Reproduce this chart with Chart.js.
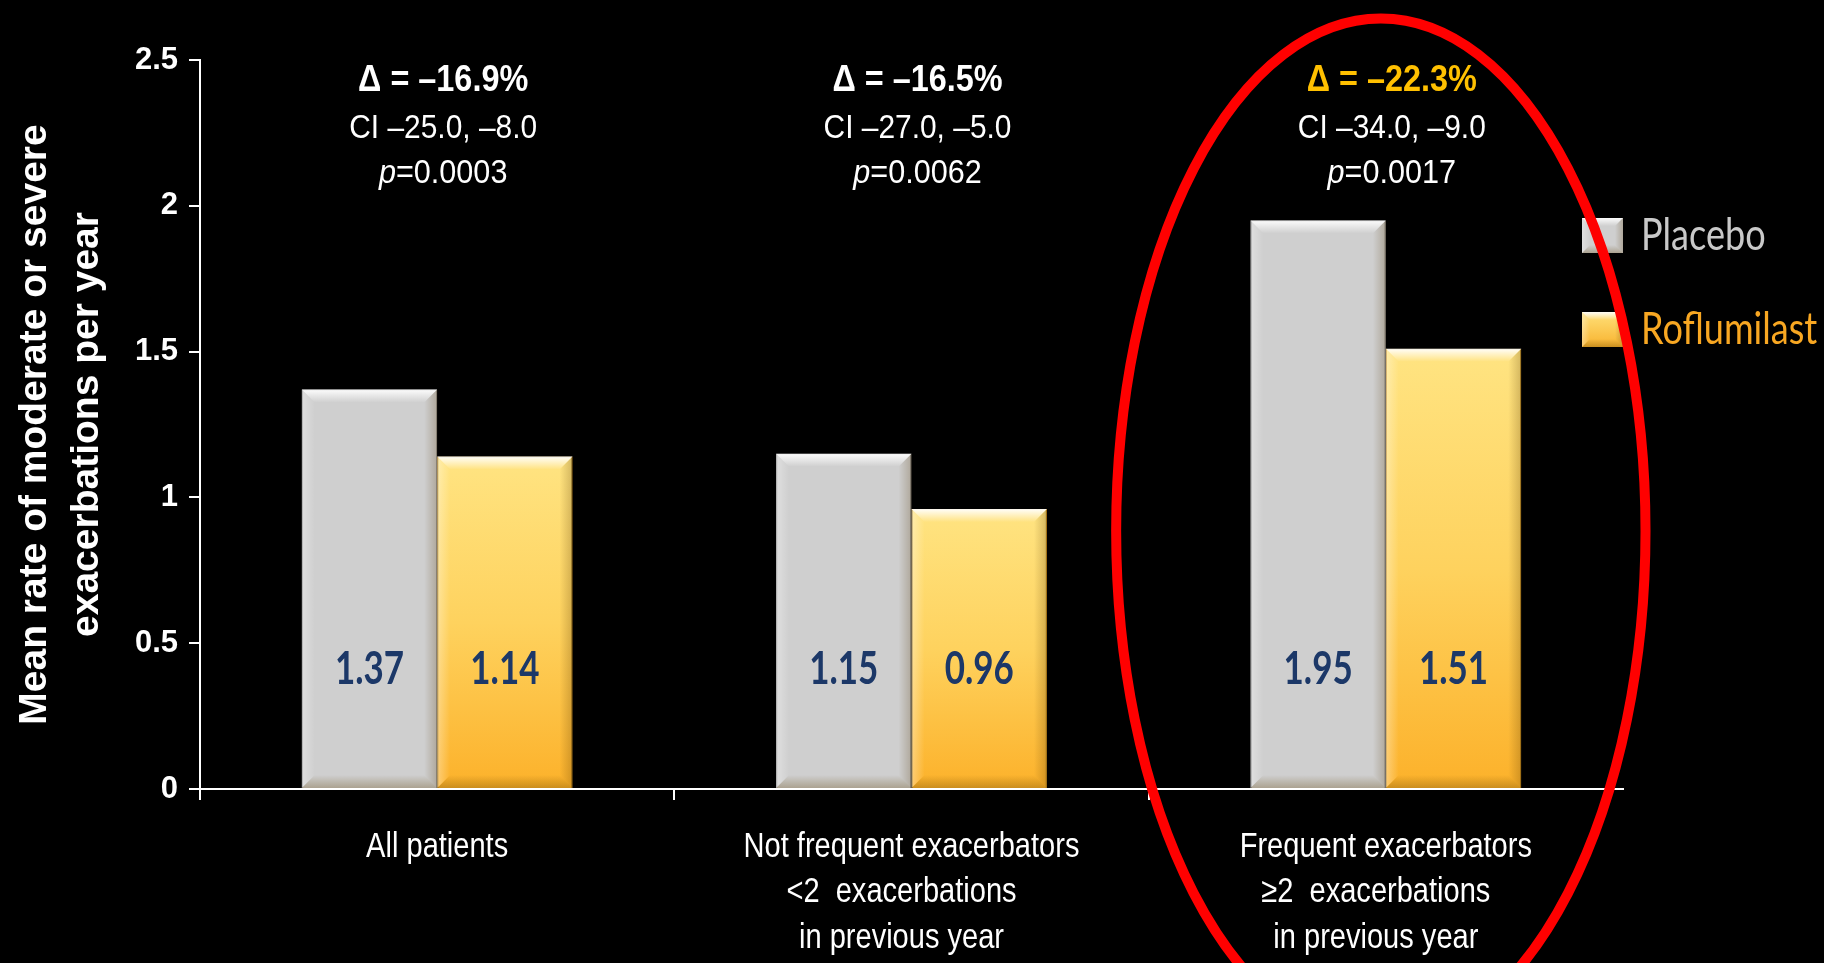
<!DOCTYPE html>
<html>
<head>
<meta charset="utf-8">
<title>Exacerbation rate by subgroup</title>
<script src="https://cdn.jsdelivr.net/npm/chart.js@4.4.1/dist/chart.umd.min.js"></script>
<style>
  html, body { margin: 0; padding: 0; background: #000; overflow: hidden; }
  #wrap { width: 1824px; height: 963px; position: relative; }
</style>
</head>
<body>
<div id="wrap"><canvas id="grafico"></canvas></div>
<script>
// Subgroups and mean exacerbation rates per year
const categories = [
    ['All patients'],
    ['Not frequent exacerbators', '<2  exacerbations', 'in previous year'],
    ['Frequent exacerbators', '\u22652  exacerbations', 'in previous year']
];
const placebo = [1.37, 1.15, 1.95];
const roflumilast = [1.14, 0.96, 1.51];
const seriesNames = ['Placebo', 'Roflumilast'];

// Stats printed above each group
const deltas = ['\u0394 = \u201316.9%', '\u0394 = \u201316.5%', '\u0394 = \u201322.3%'];
const ciTexts = ['CI \u201325.0, \u20138.0', 'CI \u201327.0, \u20135.0', 'CI \u201334.0, \u20139.0'];
const pValues = ['0.0003', '0.0062', '0.0017'];

const yTicks = [0, 0.5, 1, 1.5, 2, 2.5];

const ARIAL = '"Liberation Sans", Arial, sans-serif';
const CALIBRI = 'Lato, "Open Sans", sans-serif';

Chart.defaults.color = '#fff';

// vertical yellow gradient for each roflumilast bar
function yellowFill(ctx) {
    const chart = ctx.chart;
    if (!chart.chartArea || ctx.raw === undefined) return '#fdc64a';
    const y = chart.scales.y;
    const top = y.getPixelForValue(ctx.raw);
    const bottom = y.getPixelForValue(0);
    const g = chart.ctx.createLinearGradient(0, top, 0, bottom);
    g.addColorStop(0, '#ffe482');
    g.addColorStop(0.5, '#fed25e');
    g.addColorStop(1, '#fcb12a');
    return g;
}

function drawBevel(ctx, left, top, w, h, b) {
    const right = left + w, bottom = top + h;
    ctx.save();
    let g = ctx.createLinearGradient(0, top, 0, top + b);
    g.addColorStop(0, 'rgba(255,255,255,0.95)');
    g.addColorStop(1, 'rgba(255,255,255,0)');
    ctx.fillStyle = g;
    ctx.beginPath();
    ctx.moveTo(left, top); ctx.lineTo(right, top); ctx.lineTo(right - b, top + b); ctx.lineTo(left + b, top + b);
    ctx.closePath(); ctx.fill();

    g = ctx.createLinearGradient(0, bottom, 0, bottom - b);
    g.addColorStop(0, 'rgba(90,60,0,0.3)');
    g.addColorStop(1, 'rgba(90,60,0,0)');
    ctx.fillStyle = g;
    ctx.beginPath();
    ctx.moveTo(left, bottom); ctx.lineTo(right, bottom); ctx.lineTo(right - b, bottom - b); ctx.lineTo(left + b, bottom - b);
    ctx.closePath(); ctx.fill();

    g = ctx.createLinearGradient(left, 0, left + b, 0);
    g.addColorStop(0, 'rgba(255,255,255,0.35)');
    g.addColorStop(1, 'rgba(255,255,255,0)');
    ctx.fillStyle = g;
    ctx.beginPath();
    ctx.moveTo(left, top); ctx.lineTo(left + b, top + b); ctx.lineTo(left + b, bottom - b); ctx.lineTo(left, bottom);
    ctx.closePath(); ctx.fill();

    g = ctx.createLinearGradient(right, 0, right - b, 0);
    g.addColorStop(0, 'rgba(80,50,0,0.25)');
    g.addColorStop(1, 'rgba(80,50,0,0)');
    ctx.fillStyle = g;
    ctx.beginPath();
    ctx.moveTo(right, top); ctx.lineTo(right - b, top + b); ctx.lineTo(right - b, bottom - b); ctx.lineTo(right, bottom);
    ctx.closePath(); ctx.fill();
    ctx.restore();
}

// text squeezed horizontally around its centre
function squishText(ctx, text, cx, cy, font, color, sx) {
    ctx.save();
    ctx.font = font;
    ctx.fillStyle = color;
    ctx.textAlign = 'center';
    ctx.textBaseline = 'middle';
    ctx.translate(cx, cy);
    ctx.scale(sx, 1);
    ctx.fillText(text, 0, 0);
    ctx.restore();
}

const barBevel = {
    id: 'barBevel',
    afterDatasetsDraw(chart) {
        const ctx = chart.ctx;
        const y = chart.scales.y;
        chart.data.datasets.forEach((ds, i) => {
            chart.getDatasetMeta(i).data.forEach((bar, j) => {
                const p = bar.getProps(['x', 'y', 'base', 'width'], true);
                drawBevel(ctx, p.x - p.width / 2, p.y, p.width, p.base - p.y, 13);
                squishText(ctx, ds.data[j].toFixed(2), p.x, y.getPixelForValue(0.41),
                    'bold 46px ' + CALIBRI, '#1c3868', 0.76);
            });
        });
    }
};

// narrow category labels under the x axis
const categoryLabels = {
    id: 'categoryLabels',
    afterDraw(chart) {
        const {ctx, chartArea, scales: {x}} = chart;
        categories.forEach((lines, i) => {
            const cx = x.getPixelForValue(i);
            lines.forEach((line, k) => {
                squishText(ctx, line, cx + (k > 0 ? -10 : 0), chartArea.bottom + 58 + k * 45.5,
                    '35px ' + ARIAL, '#ffffff', 0.83);
            });
        });
    }
};

const groupNotes = {
    id: 'groupNotes',
    afterDraw(chart) {
        const {ctx, chartArea, scales: {x}} = chart;
        categories.forEach((c, i) => {
            const cx = x.getPixelForValue(i) + 6;
            squishText(ctx, deltas[i], cx, chartArea.top + 21, 'bold 36px ' + ARIAL,
                i === 2 ? '#ffc000' : '#ffffff', 0.9);
            squishText(ctx, ciTexts[i], cx, chartArea.top + 69, '34px ' + ARIAL, '#ffffff', 0.88);

            // italic p followed by the value
            const sx = 0.9;
            ctx.save();
            ctx.font = 'italic 34px ' + ARIAL;
            const wp = ctx.measureText('p').width;
            ctx.font = '34px ' + ARIAL;
            const wr = ctx.measureText('=' + pValues[i]).width;
            ctx.translate(cx - (wp + wr) * sx / 2, chartArea.top + 114);
            ctx.scale(sx, 1);
            ctx.fillStyle = '#fff';
            ctx.textAlign = 'left';
            ctx.textBaseline = 'middle';
            ctx.font = 'italic 34px ' + ARIAL;
            ctx.fillText('p', 0, 0);
            ctx.font = '34px ' + ARIAL;
            ctx.fillText('=' + pValues[i], wp, 0);
            ctx.restore();
        });
    }
};

const sideLegend = {
    id: 'sideLegend',
    afterDraw(chart) {
        const {ctx, chartArea} = chart;
        const textColors = ['#c9c9c9', '#f8a722'];
        const fills = ['#cfcfcf', null];
        chart.data.datasets.forEach((ds, i) => {
            const left = chartArea.right - 41;
            const top = chartArea.top + 158 + i * 94;
            if (fills[i]) {
                ctx.fillStyle = fills[i];
            } else {
                const g = ctx.createLinearGradient(0, top, 0, top + 35);
                g.addColorStop(0, '#ffe17a');
                g.addColorStop(1, '#f8b22e');
                ctx.fillStyle = g;
            }
            ctx.fillRect(left, top, 41, 35);
            drawBevel(ctx, left, top, 41, 35, 8);
            ctx.save();
            ctx.font = '44px ' + CALIBRI;
            ctx.fillStyle = textColors[i];
            ctx.textAlign = 'left';
            ctx.textBaseline = 'middle';
            ctx.translate(left + 59, top + 18);
            ctx.scale(0.82, 1);
            ctx.fillText(ds.label, 0, 0);
            ctx.restore();
        });
    }
};

// red ring around the frequent exacerbator group
const highlightRing = {
    id: 'highlightRing',
    afterDraw(chart) {
        const {ctx, scales: {x, y}} = chart;
        const catW = x.getPixelForValue(1) - x.getPixelForValue(0);
        const cx = x.getPixelForValue(2) - 5;
        const cy = y.getPixelForValue(0.885);
        const rx = catW * 0.558;
        const ry = y.getPixelForValue(0) - y.getPixelForValue(1.757);
        ctx.save();
        ctx.strokeStyle = '#ff0000';
        ctx.lineWidth = 10;
        ctx.beginPath();
        ctx.ellipse(cx, cy, rx, ry, 0, 0, Math.PI * 2);
        ctx.stroke();
        ctx.restore();
    }
};

const ctx = document.getElementById('grafico').getContext('2d');

new Chart(ctx, {
    type: 'bar',
    data: {
        labels: categories,
        datasets: [{
            label: seriesNames[0],
            data: placebo,
            backgroundColor: '#cfcfcf',
            borderColor: '#a9a9a9',
            borderWidth: 1,
            categoryPercentage: 0.571,
            barPercentage: 1
        }, {
            label: seriesNames[1],
            data: roflumilast,
            backgroundColor: yellowFill,
            borderColor: '#d99a22',
            borderWidth: 1,
            categoryPercentage: 0.571,
            barPercentage: 1
        }]
    },
    options: {
        responsive: true,
        maintainAspectRatio: false,
        animation: false,
        layout: { padding: { top: 60, right: 201, bottom: 0, left: 0 } },
        plugins: {
            legend: { display: false },
            tooltip: { enabled: false }
        },
        scales: {
            x: {
                offset: true,
                afterFit: scale => { scale.height = 174; },
                border: { display: true, color: '#fff', width: 2 },
                grid: {
                    drawOnChartArea: false,
                    drawTicks: true,
                    tickLength: 11,
                    // no tick mark at the far right end of the axis
                    color: c => c.type === 'tick' ? '#fff' : 'rgba(0,0,0,0)',
                    lineWidth: 2
                },
                ticks: { display: false, autoSkip: false }
            },
            y: {
                min: 0,
                max: 2.5,
                afterFit: scale => { scale.width = 200; },
                afterBuildTicks: scale => { scale.ticks = yTicks.map(v => ({ value: v })); },
                border: { display: true, color: '#fff', width: 2 },
                grid: { drawOnChartArea: false, drawTicks: true, tickLength: 11, color: '#fff', lineWidth: 2 },
                ticks: {
                    color: '#fff',
                    padding: 11,
                    font: { family: ARIAL, size: 31, weight: 'bold' },
                    callback: v => String(v)
                },
                title: {
                    display: true,
                    text: ['Mean rate of moderate or severe', 'exacerbations per year'],
                    color: '#fff',
                    padding: { top: 9, bottom: 0 },
                    font: { family: ARIAL, size: 39, weight: 'bold', lineHeight: 1.333 }
                }
            }
        }
    },
    plugins: [barBevel, categoryLabels, groupNotes, sideLegend, highlightRing]
});
</script>
</body>
</html>
